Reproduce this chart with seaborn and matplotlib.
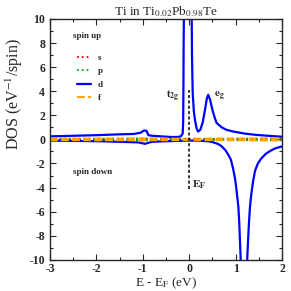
import matplotlib
matplotlib.use('Agg')
import matplotlib.pyplot as plt
import seaborn as sns
from matplotlib.ticker import MultipleLocator

sns.set_style('ticks')
plt.rcParams['font.family'] = ['Liberation Serif', 'DejaVu Serif']
plt.rcParams['mathtext.fontset'] = 'stix'
plt.rcParams['axes.unicode_minus'] = False

# d states, spin up / spin down
d_up_e = [-3.0, -2.5, -2.0, -1.5, -1.2, -1.05, -0.97, -0.92, -0.88, -0.8, -0.6, -0.4,
          -0.25, -0.18, -0.14, -0.13, -0.125, -0.12, -0.11, -0.09, -0.03, 0.03, 0.05,
          0.06, 0.075, 0.1, 0.125, 0.16, 0.19, 0.24, 0.29, 0.34, 0.38, 0.41, 0.45,
          0.5, 0.55, 0.59, 0.7, 0.8, 0.95, 1.2, 1.45, 1.7, 1.96, 2.0]
d_up = [0.25, 0.3, 0.35, 0.42, 0.45, 0.55, 0.75, 0.7, 0.35, 0.3, 0.25, 0.2,
        0.2, 0.25, 0.5, 1.5, 4.0, 8.0, 12.0, 20.0, 30.0, 20.0, 12.0,
        7.0, 3.9, 2.3, 1.6, 0.9, 0.65, 0.8, 1.4, 2.45, 3.4, 3.7, 3.3,
        2.45, 1.8, 1.37, 1.0, 0.8, 0.65, 0.48, 0.37, 0.3, 0.23, 0.22]

d_dn_e = [-3.0, -2.0, -1.5, -1.1, -0.95, -0.9, -0.8, -0.5, -0.2, 0.0, 0.2, 0.4,
          0.5, 0.6, 0.66, 0.72, 0.78, 0.84, 0.9, 0.95, 0.99, 1.02, 1.04, 1.06,
          1.08, 1.095, 1.11, 1.14, 1.18, 1.22, 1.25, 1.27, 1.29, 1.31, 1.34,
          1.38, 1.42, 1.48, 1.55, 1.65, 1.75, 1.85, 2.0]
d_dn = [-0.1, -0.15, -0.2, -0.25, -0.37, -0.3, -0.2, -0.15, -0.12, -0.1, -0.1, -0.15,
        -0.22, -0.35, -0.46, -0.65, -0.9, -1.25, -1.7, -2.5, -3.3, -4.2, -4.9, -5.6,
        -7.0, -8.5, -10.0, -14.0, -20.0, -14.0, -10.0, -8.3, -6.8, -5.6, -4.5,
        -3.4, -2.6, -2.0, -1.6, -1.2, -0.95, -0.75, -0.58]

# s, p, f states (small, near zero)
spf_e = [-3.0, -2.5, -2.0, -1.5, -1.0, -0.5, 0.0, 0.5, 1.0, 1.5, 2.0]
s_up = [0.03, 0.03, 0.04, 0.04, 0.05, 0.03, 0.02, 0.03, 0.04, 0.04, 0.05]
s_dn = [-0.03, -0.03, -0.04, -0.04, -0.05, -0.03, -0.02, -0.03, -0.04, -0.04, -0.05]
p_up = [0.05, 0.06, 0.06, 0.07, 0.08, 0.05, 0.03, 0.04, 0.06, 0.07, 0.08]
p_dn = [-0.05, -0.06, -0.06, -0.07, -0.08, -0.05, -0.03, -0.04, -0.06, -0.07, -0.08]
f_up = [0.06, 0.06, 0.07, 0.07, 0.08, 0.06, 0.05, 0.06, 0.07, 0.08, 0.08]
f_dn = [-0.06, -0.06, -0.07, -0.07, -0.08, -0.06, -0.05, -0.06, -0.07, -0.08, -0.08]

fig, ax = plt.subplots(figsize=(2.91, 2.91), dpi=100)
fig.subplots_adjust(left=0.172, right=0.969, top=0.935, bottom=0.107)

kw = dict(ax=ax, estimator=None, sort=False)
sns.lineplot(x=spf_e, y=s_up, color='#ff0000', linestyle=':', lw=1.3, label='s', **kw)
sns.lineplot(x=spf_e, y=p_up, color='#00b000', linestyle=':', lw=1.3, label='p', **kw)
sns.lineplot(x=d_up_e, y=d_up, color='#0000ff', lw=1.6, label='d', **kw)
sns.lineplot(x=spf_e, y=f_up, color='#ffa500', linestyle='--', lw=1.5, label='f', **kw)
sns.lineplot(x=spf_e, y=s_dn, color='#ff0000', linestyle=':', lw=1.3, **kw)
sns.lineplot(x=spf_e, y=p_dn, color='#00b000', linestyle=':', lw=1.3, **kw)
sns.lineplot(x=d_dn_e, y=d_dn, color='#0000ff', lw=1.6, **kw)
sns.lineplot(x=spf_e, y=f_dn, color='#ffa500', linestyle='--', lw=1.5, **kw)

ax.plot([0, 0], [-4.1, 4.1], color='black', linestyle=(0, (2, 1.5)), lw=1.1)

ax.set_xlim(-3, 2)
ax.set_ylim(-10, 10)
ax.xaxis.set_major_locator(MultipleLocator(1))
ax.xaxis.set_minor_locator(MultipleLocator(0.5))
ax.yaxis.set_major_locator(MultipleLocator(2))
ax.yaxis.set_minor_locator(MultipleLocator(1))
ax.tick_params(which='both', direction='in', top=True, right=True, labelsize=8.5)
ax.tick_params(which='major', length=4, width=0.8)
ax.tick_params(which='minor', length=2, width=0.8)
ax.tick_params(axis='x', pad=2)
for lab in ax.get_xticklabels() + ax.get_yticklabels():
    lab.set_fontweight('bold')
for sp in ax.spines.values():
    sp.set_linewidth(1.0)

ax.set_xlabel(r'E - E$_\mathrm{F}$ (eV)', fontsize=9.5)
ax.xaxis.set_label_coords(0.5, -0.066)
ax.set_ylabel(r'DOS (eV$^{-1}$/spin)', fontsize=11.5)
ax.yaxis.set_label_coords(-0.11, 0.69)
ax.set_title(r'Ti in Ti$_{0.02}$Pb$_{0.98}$Te', fontsize=9.5, pad=3)

ax.text(-2.5, 8.6, 'spin up', fontsize=6.5, fontweight='bold', va='center')
ax.text(-2.5, -2.7, 'spin down', fontsize=6.5, fontweight='bold', va='center')
ax.text(-0.5, 3.6, r'$\mathbf{t_{2g}}$', fontsize=8, va='center')
ax.text(0.53, 3.6, r'$\mathbf{e_{g}}$', fontsize=8, va='center')
ax.text(0.07, -3.75, r'$\mathbf{E_{F}}$', fontsize=8, va='center')

leg = ax.legend(loc='upper left', bbox_to_anchor=(0.1, 0.87), frameon=False,
                fontsize=6.5, handlelength=1.6, labelspacing=0.55, handletextpad=0.7,
                borderaxespad=0)
for t in leg.get_texts():
    t.set_fontweight('bold')

fig.savefig('out.png', dpi=100)
